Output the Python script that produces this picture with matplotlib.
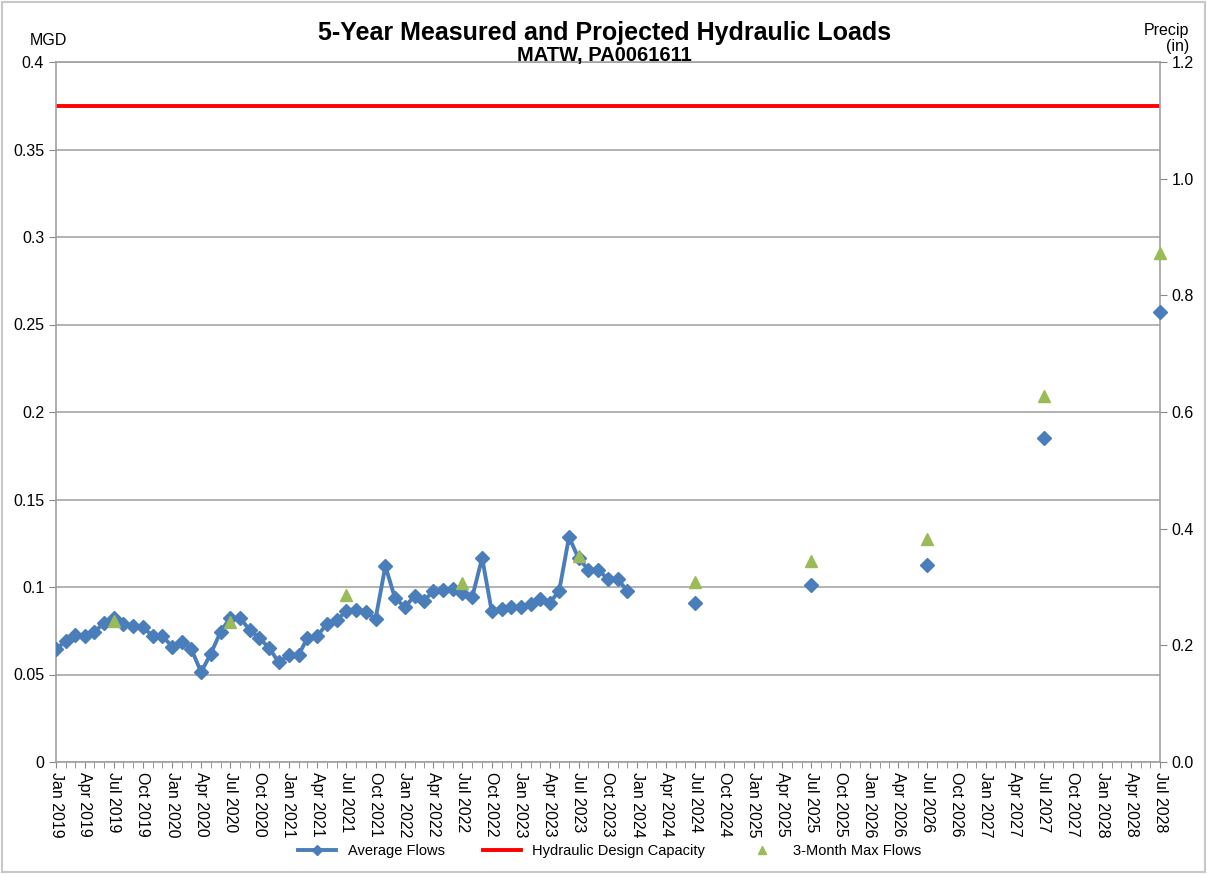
import matplotlib
matplotlib.use("Agg")
from matplotlib import pyplot as plt
import matplotlib.dates as mdates
import pandas as pd

plt.rcParams['font.family'] = ['Liberation Sans', 'DejaVu Sans']

# monthly measured average flows, Jan 2019 - Dec 2023 (MGD)
avg_months = pd.date_range("2019-01-01", "2023-12-01", freq="MS")
avg_flows = [
    0.0646, 0.069, 0.0726, 0.072, 0.0743, 0.0794, 0.0823, 0.079, 0.078, 0.077, 0.072, 0.072,
    0.066, 0.0686, 0.0646, 0.0514, 0.0617, 0.0743, 0.0823, 0.0823, 0.0754, 0.0709, 0.065, 0.057,
    0.061, 0.061, 0.0709, 0.072, 0.0789, 0.081, 0.0863, 0.0869, 0.0857, 0.0817, 0.112, 0.0937,
    0.0886, 0.0949, 0.092, 0.0977, 0.0983, 0.0989, 0.0966, 0.0943, 0.1166, 0.0863, 0.0874, 0.0886,
    0.0886, 0.0903, 0.0931, 0.0909, 0.0977, 0.1286, 0.1163, 0.110, 0.1097, 0.1046, 0.1046, 0.0977,
]

# projected average flows (July of each year)
proj_months = pd.to_datetime(["2024-07-01", "2025-07-01", "2026-07-01", "2027-07-01", "2028-07-01"])
proj_flows = [0.0909, 0.1011, 0.1126, 0.1851, 0.257]

# 3-month max flows
max_months = pd.to_datetime(["2019-07-01", "2020-07-01", "2021-07-01", "2022-07-01", "2023-07-01",
                             "2024-07-01", "2025-07-01", "2026-07-01", "2027-07-01", "2028-07-01"])
max_flows = [0.0806, 0.080, 0.0954, 0.1023, 0.1177, 0.1029, 0.1149, 0.1274, 0.209, 0.2909]

design_capacity = 0.375

blue = "#4a7ebb"
green = "#9bbb59"

fig = plt.figure(figsize=(12.07, 8.74), dpi=100)
ax = fig.add_axes([56/1207, 112/874, 1104/1207, 700/874])

ax.plot(avg_months, avg_flows, color=blue, lw=2.8, marker="D", ms=7.5, label="Average Flows", zorder=3)
ax.plot(proj_months, proj_flows, color=blue, lw=0, marker="D", ms=7.5, zorder=3, clip_on=False)
ax.axhline(design_capacity, color="#ff0000", lw=2.8, label="Hydraulic Design Capacity", zorder=2)
ax.plot(max_months, max_flows, color=green, lw=0, marker="^", ms=8.5, label="3-Month Max Flows",
        zorder=4, clip_on=False)

ax.set_xlim(pd.Timestamp("2019-01-01"), pd.Timestamp("2028-07-01"))
ax.set_ylim(0, 0.4)
ax.set_yticks([0, 0.05, 0.1, 0.15, 0.2, 0.25, 0.3, 0.35, 0.4])
ax.set_yticklabels(["0", "0.05", "0.1", "0.15", "0.2", "0.25", "0.3", "0.35", "0.4"])
ax.yaxis.grid(True, color="#a6a6a6", lw=1.2)
ax.set_axisbelow(True)

ax.xaxis.set_major_locator(mdates.MonthLocator(bymonth=[1, 4, 7, 10]))
ax.xaxis.set_minor_locator(mdates.MonthLocator())
ax.xaxis.set_major_formatter(mdates.DateFormatter("%b %Y"))
for lbl in ax.get_xticklabels():
    lbl.set_rotation(270)
ax.tick_params(axis="x", which="both", length=4, color="#888888", labelsize=11.5, pad=3)
ax.tick_params(axis="y", length=5, color="#888888", labelsize=11.5)

for s in ax.spines.values():
    s.set_color("#a0a0a0")
    s.set_linewidth(1.2)

ax2 = ax.twinx()
ax2.set_ylim(0, 1.2)
ax2.set_yticks([0, 0.2, 0.4, 0.6, 0.8, 1.0, 1.2])
ax2.set_yticklabels(["0.0", "0.2", "0.4", "0.6", "0.8", "1.0", "1.2"])
ax2.tick_params(axis="y", length=5, color="#888888", labelsize=11.5)
for s in ax2.spines.values():
    s.set_visible(False)

fig.text(0.501, 0.962, "5-Year Measured and Projected Hydraulic Loads", ha="center", va="center",
         fontsize=18, fontweight="bold")
fig.text(0.501, 0.937, "MATW, PA0061611", ha="center", va="center",
         fontsize=14.5, fontweight="bold")
fig.text(0.025, 0.954, "MGD", ha="left", va="center", fontsize=11.5)
fig.text(0.985, 0.956, "Precip\n(in)", ha="right", va="center", fontsize=11.5, linespacing=1.1)

fig.legend(loc="center", bbox_to_anchor=(0.505, 0.026), ncol=3, frameon=False, fontsize=10.5,
           handlelength=2.6, columnspacing=2.6, markerscale=0.7)

# light frame around the chart
fig.patches.append(plt.Rectangle((0.002, 0.002), 0.996, 0.996, transform=fig.transFigure,
                                 fill=False, edgecolor="#c8c8c8", lw=1.5))

fig.savefig("out.png", dpi=100)
